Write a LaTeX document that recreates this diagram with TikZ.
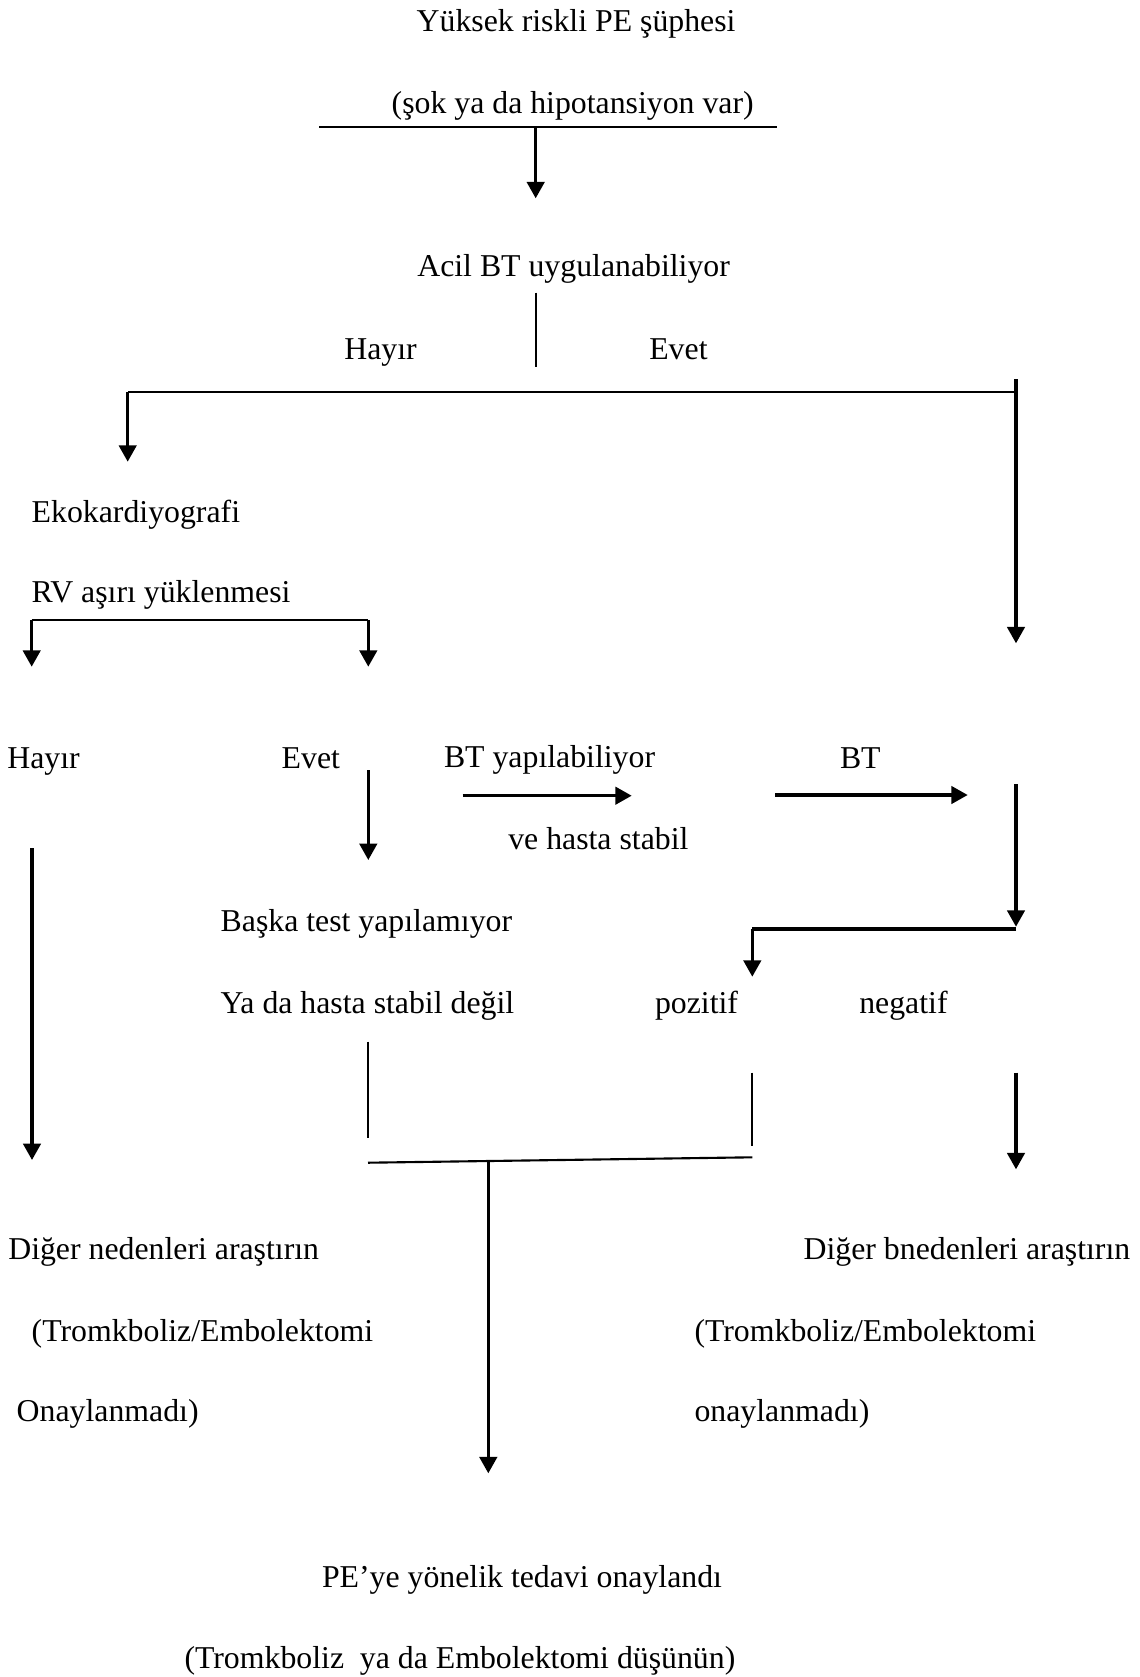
\documentclass[tikz,border=0pt]{standalone}
\usepackage{fontspec}
\setmainfont{Liberation Serif}
\usetikzlibrary{arrows.meta}
\begin{document}
\begin{tikzpicture}[x=0.3774pt,y=-0.3774pt,
  txt/.style={inner sep=0pt,outer sep=0pt,anchor=base west,font=\fontsize{12pt}{14pt}\selectfont},
  thinline/.style={line width=0.8pt},
  arr/.style={line width=1.2pt,-{Triangle[width=6.6pt,length=6.2pt]}},
  thickline/.style={line width=1.2pt}]
\useasboundingbox (0,0) rectangle (1140,1677);
% texts
\node[txt] (t1) at (416.7,31.7) {Yüksek riskli PE şüphesi};
\node[txt] (t2) at (391.7,113) {(şok ya da hipotansiyon var)};
\node[txt] (t3) at (417.3,276.7) {Acil BT uygulanabiliyor};
\node[txt] (t4) at (344.3,359.3) {Hayır};
\node[txt] (t5) at (649.3,359.3) {Evet};
\node[txt] (t6) at (31.7,522.7) {Ekokardiyografi};
\node[txt] (t7) at (31.7,602.7) {RV aşırı yüklenmesi};
\node[txt] (t8) at (7.3,768.3) {Hayır};
\node[txt] (t9) at (281.7,768.3) {Evet};
\node[txt] (t10) at (444,767.5) {BT yapılabiliyor};
\node[txt] (t11) at (840,768) {BT};
\node[txt] (t12) at (508.3,849.3) {ve hasta stabil};
\node[txt] (t13) at (220.7,931.5) {Başka test yapılamıyor};
\node[txt] (t14) at (220.7,1013.3) {Ya da hasta stabil değil};
\node[txt] (t15) at (655,1013.3) {pozitif};
\node[txt] (t16) at (859.3,1013.3) {negatif};
\node[txt] (t17) at (8.3,1259.3) {Diğer nedenleri araştırın};
\node[txt] (t18) at (31.7,1341) {(Tromkboliz/Embolektomi};
\node[txt] (t19) at (16.7,1421.7) {Onaylanmadı)};
\node[txt] (t20) at (803.6,1259.3) {Diğer bnedenleri araştırın};
\node[txt] (t21) at (694.5,1341) {(Tromkboliz/Embolektomi};
\node[txt] (t22) at (694.5,1421.7) {onaylanmadı)};
\node[txt] (t23) at (322,1587) {PE’ye yönelik tedavi onaylandı};
\node[txt] (t24) at (184.5,1668) {(Tromkboliz\ \ ya da Embolektomi düşünün)};
% coordinates
\coordinate (l1a) at (319.3,126.7);
\coordinate (l1b) at (776.7,126.7);
\coordinate (a1s) at (535.7,126.7);
\coordinate (a1e) at (535.7,198.3);
\coordinate (v1a) at (535.7,292.7);
\coordinate (v1b) at (535.7,366.7);
\coordinate (hL) at (127.7,391.7);
\coordinate (hR) at (1016,391.7);
\coordinate (rTop) at (1016,379.3);
\coordinate (rTip) at (1016,643.3);
\coordinate (ekoTip) at (127.7,461.7);
\coordinate (bL) at (31.7,620);
\coordinate (bR) at (368.3,620);
\coordinate (bLtip) at (31.7,666.7);
\coordinate (bRtip) at (368.3,666.7);
\coordinate (evS) at (368.3,770);
\coordinate (evE) at (368.3,860);
\coordinate (btyS) at (462.7,795.7);
\coordinate (btyE) at (631.7,795.7);
\coordinate (btS) at (775.3,795);
\coordinate (btE) at (967.7,795);
\coordinate (r2S) at (1016,784);
\coordinate (r2E) at (1016,926.7);
\coordinate (cR) at (1016,929);
\coordinate (cL) at (752.3,929);
\coordinate (pTip) at (752.3,976.7);
\coordinate (lvS) at (32,848);
\coordinate (lvE) at (32,1160);
\coordinate (v2a) at (368,1041.7);
\coordinate (v2b) at (368,1138.3);
\coordinate (v3a) at (752.3,1072.7);
\coordinate (v3b) at (752.3,1146);
\coordinate (raS) at (1016,1072.7);
\coordinate (raE) at (1016,1169.3);
\coordinate (jL) at (368,1162.7);
\coordinate (jR) at (752.3,1157.3);
\coordinate (dS) at (488.3,1160);
\coordinate (dE) at (488.3,1473.3);
% connectors
\draw[thinline] (l1a) -- (l1b);
\draw[arr] (a1s) -- (a1e);
\draw[thinline] (v1a) -- (v1b);
\draw[thinline] (hR) -- (hL);
\draw[arr] (hL) -- (ekoTip);
\draw[arr] (rTop) -- (rTip);
\draw[thinline] (bL) -- (bR);
\draw[arr] (bL) -- (bLtip);
\draw[arr] (bR) -- (bRtip);
\draw[arr] (evS) -- (evE);
\draw[arr] (btyS) -- (btyE);
\draw[arr] (btS) -- (btE);
\draw[arr] (r2S) -- (r2E);
\draw[thickline] (cR) -- (cL);
\draw[arr] (cL) -- (pTip);
\draw[arr] (lvS) -- (lvE);
\draw[thinline] (v2a) -- (v2b);
\draw[thinline] (v3a) -- (v3b);
\draw[arr] (raS) -- (raE);
\draw[thinline] (jL) -- (jR);
\draw[arr] (dS) -- (dE);
\end{tikzpicture}
\end{document}
